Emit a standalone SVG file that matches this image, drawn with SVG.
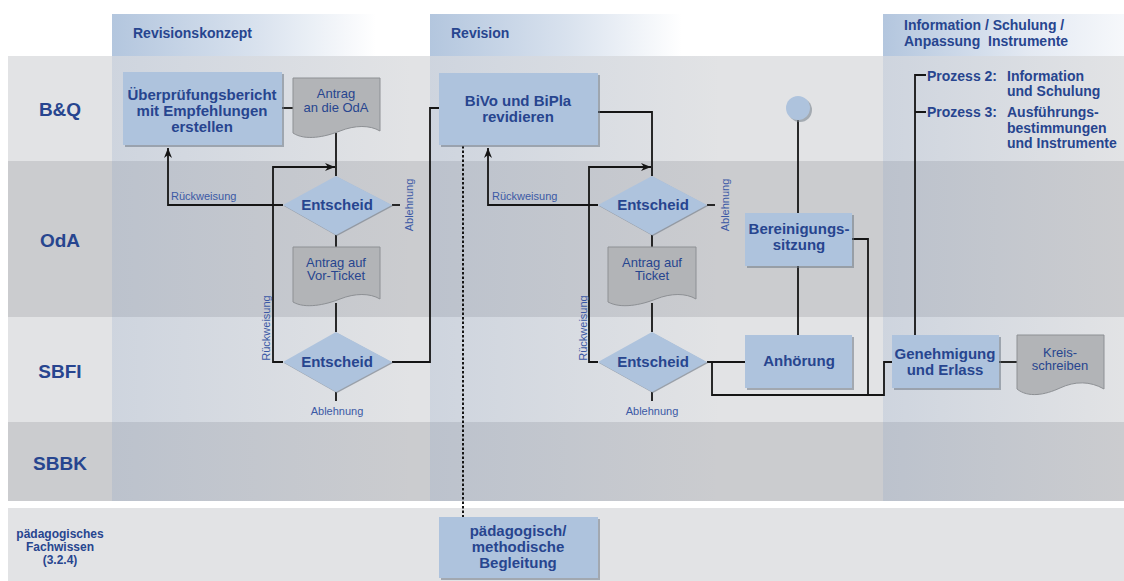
<svg xmlns="http://www.w3.org/2000/svg" width="1124" height="581" viewBox="0 0 1124 581">
<defs>
<linearGradient id="hdr" x1="0" y1="0" x2="1" y2="0">
<stop offset="0" stop-color="#b3c6de"/>
<stop offset="0.55" stop-color="#d9e2ee"/>
<stop offset="1" stop-color="#ffffff"/>
</linearGradient>
<linearGradient id="hdr3" x1="0" y1="0" x2="1" y2="0">
<stop offset="0" stop-color="#b3c6de"/>
<stop offset="0.6" stop-color="#e3e9f2"/>
<stop offset="1" stop-color="#f6f8fb"/>
</linearGradient>
<linearGradient id="tint" x1="0" y1="0" x2="1" y2="0">
<stop offset="0" stop-color="#7f9bc4" stop-opacity="0.2"/>
<stop offset="1" stop-color="#7f9bc4" stop-opacity="0"/>
</linearGradient>
<marker id="arr" viewBox="0 0 10 8" refX="10" refY="4" markerWidth="10" markerHeight="8" markerUnits="userSpaceOnUse" orient="auto">
<path d="M0,0 L10,4 L0,8 L3,4 Z" fill="#151515"/>
</marker>
<style>
.lane-l{fill:#e2e3e5}
.lane-d{fill:#cbcccf}
.lbl{font-family:"Liberation Sans",Arial,sans-serif;font-weight:bold;fill:#27458f;text-anchor:middle}
.hdr{font-family:"Liberation Sans",Arial,sans-serif;font-weight:bold;fill:#27458f;font-size:14px}
.box{fill:#aec3dd}
.shd{fill:#6e7885;opacity:0.55}
.doc{fill:#b2b4b7;stroke:#8d9094;stroke-width:1}
.bt{font-family:"Liberation Sans",Arial,sans-serif;font-weight:bold;font-size:15px;fill:#27458f;text-anchor:middle}
.dt{font-family:"Liberation Sans",Arial,sans-serif;font-size:13px;fill:#27458f;text-anchor:middle}
.sm{font-family:"Liberation Sans",Arial,sans-serif;font-size:11px;fill:#3b59a5}
.pt{font-family:"Liberation Sans",Arial,sans-serif;font-weight:bold;font-size:14px;fill:#27458f}
.ln{fill:none;stroke:#151515;stroke-width:1.8}
.dash{fill:none;stroke:#151515;stroke-width:2;stroke-dasharray:2.5 2}
</style>
</defs>
<rect x="0" y="0" width="1124" height="581" fill="#ffffff"/>
<g id="lanes">
<rect class="lane-l" x="8" y="56" width="1116" height="105"/>
<rect class="lane-d" x="8" y="161" width="1116" height="156"/>
<rect class="lane-l" x="8" y="317" width="1116" height="105"/>
<rect class="lane-d" x="8" y="422" width="1116" height="79"/>
<rect class="lane-l" x="8" y="508" width="1116" height="73"/>
<rect fill="url(#tint)" x="112" y="56" width="300" height="445"/>
<rect fill="url(#tint)" x="430" y="56" width="290" height="445"/>
<rect fill="url(#tint)" x="883" y="56" width="241" height="445"/>
<rect fill="url(#hdr)" x="112" y="14" width="264" height="42"/>
<rect fill="url(#hdr)" x="430" y="14" width="252" height="42"/>
<rect fill="url(#hdr3)" x="883" y="14" width="241" height="42"/>
<text class="hdr" x="133" y="38">Revisionskonzept</text>
<text class="hdr" x="451" y="38">Revision</text>
<text class="hdr" x="904" y="30" font-size="14.5">Information / Schulung /</text>
<text class="hdr" x="904" y="46" font-size="14.5" xml:space="preserve">Anpassung  Instrumente</text>
<text class="lbl" x="60" y="116" font-size="19">B&amp;Q</text>
<text class="lbl" x="60" y="247" font-size="19">OdA</text>
<text class="lbl" x="60" y="378" font-size="19">SBFI</text>
<text class="lbl" x="60" y="470" font-size="19">SBBK</text>
<text class="lbl" x="60" y="538" font-size="12">pädagogisches</text>
<text class="lbl" x="60" y="551" font-size="12">Fachwissen</text>
<text class="lbl" x="60" y="564" font-size="12">(3.2.4)</text>
</g>
<g id="connectors">
<path class="ln" d="M282,108 H293"/>
<path class="ln" d="M336,133 V176"/>
<path class="ln" d="M336,235 V247"/>
<path class="ln" d="M336,303 V332"/>
<path class="ln" d="M392,205 H400"/>
<path class="ln" d="M336,392 V401"/>
<path class="ln" d="M283,205 H168 V148" marker-end="url(#arr)"/>
<path class="ln" d="M283,362 H273 V167 H335" marker-end="url(#arr)"/>
<path class="ln" d="M392,362 H430 V108 H439"/>
<path class="ln" d="M598,112 H652 V176"/>
<path class="dash" d="M463,146 V517"/>
<path class="ln" d="M652,235 V247"/>
<path class="ln" d="M652,303 V332"/>
<path class="ln" d="M707,205 H715"/>
<path class="ln" d="M652,392 V401"/>
<path class="ln" d="M598,205 H488 V148" marker-end="url(#arr)"/>
<path class="ln" d="M598,362 H589 V167 H651" marker-end="url(#arr)"/>
<path class="ln" d="M707,362 H745"/>
<path class="ln" d="M712,362 V395 H884 V362 H892"/>
<path class="ln" d="M852,239 H868 V395"/>
<path class="ln" d="M798,120 V213"/>
<path class="ln" d="M798,266 V335"/>
<path class="ln" d="M999,362 H1017"/>
<path class="ln" d="M915,335 V75 H926 M915,112 H926"/>
</g>
<g id="n-ueberpruefung">
<rect class="shd" x="125" y="74" width="159" height="73"/>
<rect class="box" x="123" y="72" width="159" height="73"/>
<text class="bt" x="202" y="100">Überprüfungsbericht</text>
<text class="bt" x="202" y="116">mit Empfehlungen</text>
<text class="bt" x="202" y="132">erstellen</text>
</g>
<g id="n-antrag-oda">
<path class="doc" d="M293,78 H380 V131 C370,125 355,125 340,131 C325,137 305,141 293,133 Z"/>
<text class="dt" x="336" y="98">Antrag</text>
<text class="dt" x="336" y="112">an die OdA</text>
</g>
<g id="n-entscheid1">
<polygon points="337,177 393,206 337,236 284,206" fill="#7c8590" opacity="0.7"/>
<polygon class="box" points="336,176 392,205 336,235 283,205"/>
<text class="bt" x="337" y="210" font-size="14.5">Entscheid</text>
<text class="sm" x="171" y="200">Rückweisung</text>
<text class="sm" text-anchor="middle" transform="translate(413,205) rotate(-90)">Ablehnung</text>
</g>
<g id="n-antrag-vorticket">
<path class="doc" d="M293,247 H380 V299 C370,293 355,293 340,299 C325,305 305,309 293,302 Z"/>
<text class="dt" x="336" y="267">Antrag auf</text>
<text class="dt" x="336" y="280">Vor-Ticket</text>
</g>
<g id="n-entscheid2">
<polygon points="337,333 393,363 337,393 284,363" fill="#7c8590" opacity="0.7"/>
<polygon class="box" points="336,332 392,362 336,392 283,362"/>
<text class="bt" x="337" y="367" font-size="14.5">Entscheid</text>
<text class="sm" text-anchor="middle" transform="translate(270,328) rotate(-90)">Rückweisung</text>
<text class="sm" text-anchor="middle" x="337" y="415">Ablehnung</text>
</g>
<g id="n-bivo">
<rect class="shd" x="441" y="75" width="159" height="72"/>
<rect class="box" x="439" y="73" width="159" height="72"/>
<text class="bt" x="518" y="106">BiVo und BiPla</text>
<text class="bt" x="518" y="122">revidieren</text>
</g>
<g id="n-entscheid3">
<polygon points="653,177 708,206 653,236 599,206" fill="#7c8590" opacity="0.7"/>
<polygon class="box" points="652,176 707,205 652,235 598,205"/>
<text class="bt" x="653" y="210" font-size="14.5">Entscheid</text>
<text class="sm" x="492" y="200">Rückweisung</text>
<text class="sm" text-anchor="middle" transform="translate(729,205) rotate(-90)">Ablehnung</text>
</g>
<g id="n-antrag-ticket">
<path class="doc" d="M608,247 H696 V299 C686,293 671,293 656,299 C641,305 621,309 608,302 Z"/>
<text class="dt" x="652" y="267">Antrag auf</text>
<text class="dt" x="652" y="280">Ticket</text>
</g>
<g id="n-entscheid4">
<polygon points="653,333 708,363 653,393 599,363" fill="#7c8590" opacity="0.7"/>
<polygon class="box" points="652,332 707,362 652,392 598,362"/>
<text class="bt" x="653" y="367" font-size="14.5">Entscheid</text>
<text class="sm" text-anchor="middle" transform="translate(587,328) rotate(-90)">Rückweisung</text>
<text class="sm" text-anchor="middle" x="652" y="415">Ablehnung</text>
</g>
<g id="n-start">
<circle cx="800" cy="110" r="12" fill="#7c8590" opacity="0.6"/>
<circle cx="798" cy="108" r="12" class="box"/>
</g>
<g id="n-bereinigung">
<rect class="shd" x="747" y="215" width="107" height="53"/>
<rect class="box" x="745" y="213" width="107" height="53"/>
<text class="bt" x="799" y="234">Bereinigungs-</text>
<text class="bt" x="799" y="250">sitzung</text>
</g>
<g id="n-anhoerung">
<rect class="shd" x="747" y="337" width="107" height="53"/>
<rect class="box" x="745" y="335" width="107" height="53"/>
<text class="bt" x="799" y="366">Anhörung</text>
</g>
<g id="n-genehmigung">
<rect class="shd" x="894" y="337" width="107" height="53"/>
<rect class="box" x="892" y="335" width="107" height="53"/>
<text class="bt" x="945" y="359">Genehmigung</text>
<text class="bt" x="945" y="375">und Erlass</text>
</g>
<g id="n-kreisschreiben">
<path class="doc" d="M1017,335 H1104 V389 C1090,381 1075,381 1060,388 C1045,395 1028,398 1017,389 Z"/>
<text class="dt" x="1060" y="357">Kreis-</text>
<text class="dt" x="1060" y="370">schreiben</text>
</g>
<g id="n-prozesse">
<text class="pt" x="927" y="81">Prozess 2:</text>
<text class="pt" x="1007" y="81">Information</text>
<text class="pt" x="1007" y="96">und Schulung</text>
<text class="pt" x="927" y="117">Prozess 3:</text>
<text class="pt" x="1007" y="117">Ausführungs-</text>
<text class="pt" x="1007" y="133">bestimmungen</text>
<text class="pt" x="1007" y="148">und Instrumente</text>
</g>
<g id="n-paedagogisch">
<rect class="shd" x="441" y="519" width="159" height="61"/>
<rect class="box" x="439" y="517" width="159" height="61"/>
<text class="bt" x="518" y="536" font-weight="normal" font-size="16">pädagogisch/</text>
<text class="bt" x="518" y="552" font-weight="normal" font-size="16">methodische</text>
<text class="bt" x="518" y="568" font-weight="normal" font-size="16">Begleitung</text>
</g>
</svg>
